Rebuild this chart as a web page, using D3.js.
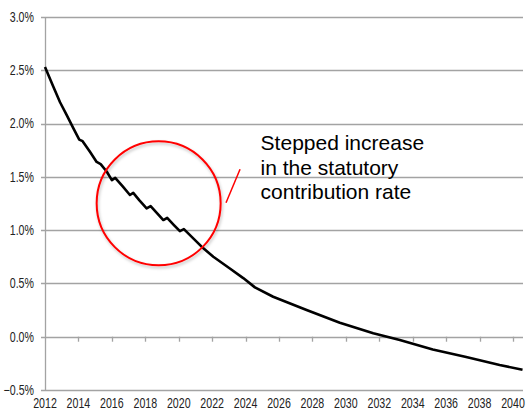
<!DOCTYPE html>
<html>
<head>
<meta charset="utf-8">
<script src="https://cdn.jsdelivr.net/npm/d3@7"></script>
<style>
  body { margin: 0; background: #fff; }
  .tick-label { font-family: "Liberation Sans", Arial, sans-serif; font-size: 14px; fill: #222; }
  .note { font-family: "Liberation Sans", Arial, sans-serif; font-size: 21px; fill: #000; }
</style>
</head>
<body>
<div id="chart"></div>
<script>
// values (year, rate in %)
var years = [2012, 2012.5, 2012.9, 2013.3, 2013.7, 2014.05, 2014.25, 2014.69, 2015.09, 2015.33,
    2015.69, 2016.0, 2016.2, 2016.65, 2017.08, 2017.28, 2017.65, 2018.08, 2018.32, 2018.7,
    2019.08, 2019.31, 2019.7, 2020.07, 2020.31, 2021.37, 2022.07, 2023.06, 2023.86, 2024.56,
    2025.65, 2027.65, 2029.64, 2031.64, 2033.23, 2035.2, 2037.2, 2039.2, 2040.57];
var rates = [2.53, 2.345, 2.20, 2.08, 1.955, 1.85, 1.835, 1.735, 1.64, 1.62,
    1.55, 1.47, 1.49, 1.41, 1.33, 1.35, 1.28, 1.205, 1.226, 1.16,
    1.095, 1.116, 1.05, 0.99, 1.01, 0.845, 0.75, 0.64, 0.55, 0.463,
    0.375, 0.25, 0.131, 0.032, -0.03, -0.12, -0.19, -0.265, -0.31];

var xTicks = [2012, 2014, 2016, 2018, 2020, 2022, 2024, 2026, 2028, 2030, 2032, 2034, 2036, 2038, 2040];
var yTicks = [-0.5, 0.0, 0.5, 1.0, 1.5, 2.0, 2.5, 3.0];
var noteLines = ["Stepped increase", "in the statutory", "contribution rate"];

var width = 526, height = 416;
var squeeze = 0.76; // narrow look of the tick labels

var svg = d3.select("#chart")
    .append("svg")
    .attr("width", width)
    .attr("height", height);

var x = d3.scaleLinear()
    .domain([2012, 2040])
    .range([45, 513]);

var y = d3.scaleLinear()
    .domain([-0.5, 3.0])
    .range([390, 17]);

var right = 523;

// horizontal gridlines
svg.append("g")
    .selectAll("line")
    .data(yTicks)
    .enter()
    .append("line")
    .attr("x1", x(2012) - 4)
    .attr("x2", right)
    .attr("y1", function (d) { return Math.round(y(d)) + 0.5; })
    .attr("y2", function (d) { return Math.round(y(d)) + 0.5; })
    .style("stroke", "#a3a3a3")
    .style("stroke-width", 1.3);

// vertical axis line
svg.append("line")
    .attr("x1", x(2012) + 0.5)
    .attr("x2", x(2012) + 0.5)
    .attr("y1", y(3.0))
    .attr("y2", y(-0.5))
    .style("stroke", "#a3a3a3")
    .style("stroke-width", 1.3);

// y labels
svg.append("g")
    .selectAll("text")
    .data(yTicks)
    .enter()
    .append("text")
    .attr("class", "tick-label")
    .attr("transform", function (d) {
        return "translate(34," + y(d) + ") scale(" + squeeze + ",1)";
    })
    .attr("dy", "0.35em")
    .style("text-anchor", "end")
    .text(function (d) { return d3.format(".1f")(d) + "%"; });

// x tick marks on the zero line
svg.append("g")
    .selectAll("line")
    .data(xTicks.slice(1))
    .enter()
    .append("line")
    .attr("x1", function (d) { return Math.round(x(d)) + 0.5; })
    .attr("x2", function (d) { return Math.round(x(d)) + 0.5; })
    .attr("y1", y(0))
    .attr("y2", y(0) + 5)
    .style("stroke", "#a3a3a3")
    .style("stroke-width", 1.3);

// x labels at the bottom
svg.append("g")
    .selectAll("text")
    .data(xTicks)
    .enter()
    .append("text")
    .attr("class", "tick-label")
    .attr("transform", function (d) {
        return "translate(" + x(d) + ",408) scale(" + squeeze + ",1)";
    })
    .style("text-anchor", "middle")
    .text(function (d) { return d; });

// the rate line
var line = d3.line()
    .x(function (d, i) { return x(years[i]); })
    .y(function (d) { return y(d); });

svg.append("path")
    .datum(rates)
    .attr("d", line)
    .style("fill", "none")
    .style("stroke", "#000")
    .style("stroke-width", 2.6)
    .style("stroke-linejoin", "round");

// annotation: red circle with soft shadow
var defs = svg.append("defs");
var f = defs.append("filter").attr("id", "shadow")
    .attr("x", "-20%").attr("y", "-20%").attr("width", "140%").attr("height", "140%");
f.append("feDropShadow")
    .attr("dx", 1).attr("dy", 2).attr("stdDeviation", 1.5)
    .attr("flood-color", "#000").attr("flood-opacity", 0.25);

svg.append("circle")
    .attr("cx", x(2018.8))
    .attr("cy", y(1.252))
    .attr("r", 62)
    .style("fill", "none")
    .style("stroke", "#ff0000")
    .style("stroke-width", 2)
    .attr("filter", "url(#shadow)");

svg.append("line")
    .attr("x1", x(2022.83))
    .attr("y1", y(1.257))
    .attr("x2", x(2023.67))
    .attr("y2", y(1.571))
    .style("stroke", "#ff0000")
    .style("stroke-width", 1.5);

svg.append("g")
    .selectAll("text")
    .data(noteLines)
    .enter()
    .append("text")
    .attr("class", "note")
    .attr("x", x(2024.9))
    .attr("y", function (d, i) { return y(1.75) + i * 24.4; })
    .text(function (d) { return d; });
</script>
</body>
</html>
